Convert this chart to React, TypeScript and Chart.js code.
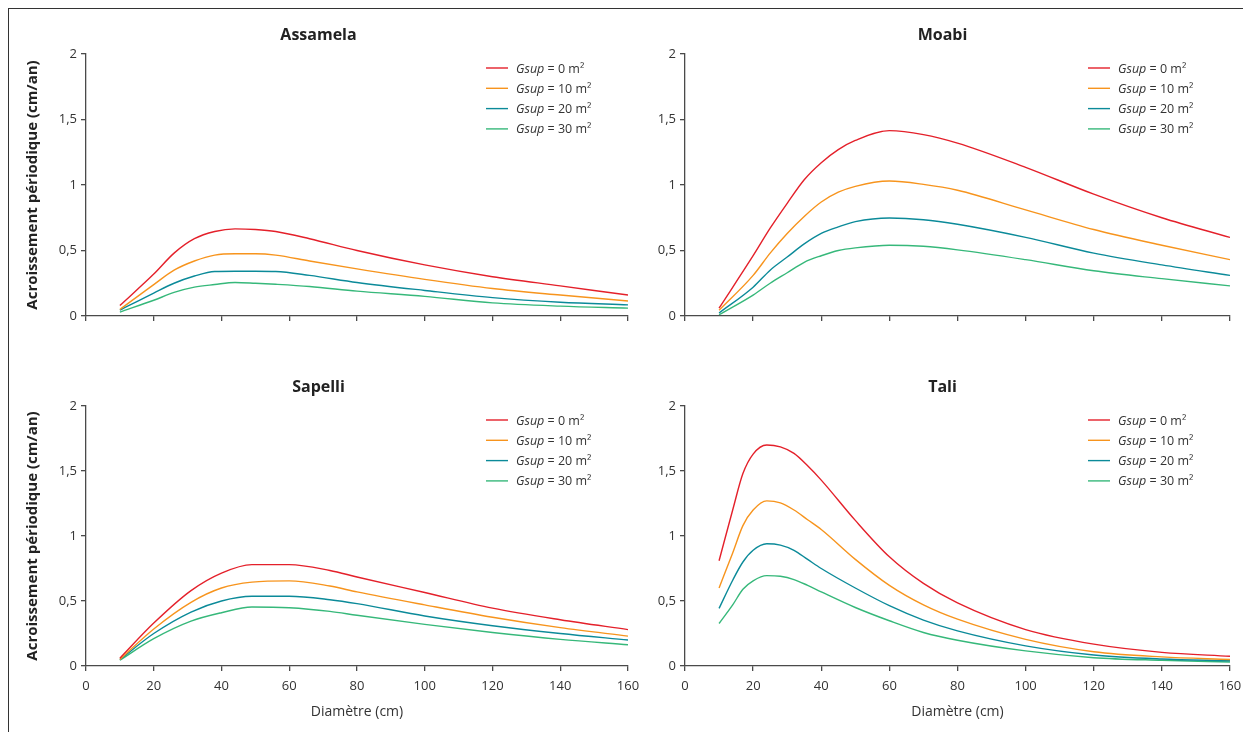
import React, { useEffect, useRef } from 'react';
import { Chart, registerables } from 'chart.js';
Chart.register(...registerables);

const FONT = '"Open Sans", Lato, sans-serif';
const TEXT = '#333333';
const AXIS = '#4a4a4a';

const GSUP_VALUES = ['0', '10', '20', '30'];
const COLORS = ['#e4202a', '#f7941d', '#0b8a99', '#36b87a'];
const Y_TICK_LABELS = ['0', '0,5', '1', '1,5', '2'];
const X_AXIS_TITLE = 'Diamètre (cm)';
const Y_AXIS_TITLE = 'Acroissement périodique (cm/an)';

// Assamela
const ASSAMELA_DIAM = [10, 20, 26, 32, 38, 44, 50, 56, 66, 80, 100, 120, 140, 160];
const ASSAMELA_G0 = [0.08, 0.32, 0.48, 0.59, 0.645, 0.665, 0.66, 0.645, 0.59, 0.5, 0.39, 0.3, 0.23, 0.16];
const ASSAMELA_G10 = [0.05, 0.24, 0.35, 0.42, 0.465, 0.475, 0.475, 0.465, 0.42, 0.36, 0.28, 0.21, 0.16, 0.115];
const ASSAMELA_G20 = [0.044, 0.175, 0.25, 0.305, 0.34, 0.342, 0.342, 0.34, 0.31, 0.256, 0.195, 0.14, 0.105, 0.085];
const ASSAMELA_G30 = [0.03, 0.12, 0.18, 0.22, 0.24, 0.256, 0.25, 0.242, 0.225, 0.19, 0.15, 0.1, 0.075, 0.06];

// Moabi
const MOABI_DIAM = [10, 20, 25, 30, 35, 40, 45, 50, 60, 70, 80, 100, 120, 140, 160];
const MOABI_G0 = [0.06, 0.46, 0.67, 0.86, 1.04, 1.17, 1.27, 1.34, 1.415, 1.385, 1.32, 1.135, 0.93, 0.75, 0.6];
const MOABI_G10 = [0.044, 0.31, 0.48, 0.63, 0.76, 0.87, 0.945, 0.99, 1.03, 1.005, 0.96, 0.81, 0.66, 0.54, 0.43];
const MOABI_G20 = [0.023, 0.22, 0.35, 0.45, 0.55, 0.63, 0.68, 0.72, 0.748, 0.735, 0.7, 0.6, 0.48, 0.39, 0.31];
const MOABI_G30 = [0.01, 0.16, 0.25, 0.33, 0.41, 0.46, 0.5, 0.52, 0.54, 0.532, 0.505, 0.43, 0.345, 0.285, 0.23];

// Sapelli
const SAPELLI_DIAM = [10, 20, 31, 40, 49, 60, 72, 80, 100, 120, 140, 160];
const SAPELLI_G0 = [0.06, 0.33, 0.58, 0.715, 0.78, 0.78, 0.735, 0.685, 0.565, 0.445, 0.356, 0.28];
const SAPELLI_G10 = [0.05, 0.285, 0.49, 0.6, 0.645, 0.655, 0.615, 0.57, 0.47, 0.375, 0.295, 0.23];
const SAPELLI_G20 = [0.049, 0.25, 0.415, 0.5, 0.536, 0.536, 0.51, 0.48, 0.385, 0.31, 0.25, 0.2];
const SAPELLI_G30 = [0.044, 0.21, 0.345, 0.41, 0.454, 0.448, 0.42, 0.39, 0.32, 0.258, 0.205, 0.164];

// Tali
const TALI_DIAM = [10, 14, 17, 20, 24, 28, 32, 36, 40, 50, 60, 70, 80, 100, 120, 140, 160];
const TALI_G0 = [0.81, 1.2, 1.48, 1.63, 1.7, 1.685, 1.635, 1.54, 1.43, 1.12, 0.84, 0.635, 0.485, 0.28, 0.168, 0.105, 0.075];
const TALI_G10 = [0.6, 0.87, 1.08, 1.2, 1.27, 1.255, 1.2, 1.125, 1.05, 0.82, 0.62, 0.47, 0.36, 0.205, 0.11, 0.07, 0.05];
const TALI_G20 = [0.443, 0.66, 0.8, 0.89, 0.94, 0.93, 0.89, 0.82, 0.75, 0.6, 0.464, 0.353, 0.27, 0.155, 0.085, 0.054, 0.04];
const TALI_G30 = [0.327, 0.47, 0.59, 0.655, 0.695, 0.69, 0.665, 0.62, 0.57, 0.45, 0.348, 0.258, 0.198, 0.116, 0.064, 0.044, 0.031];

type PanelProps = {
  title: string;
  diam: number[];
  series: number[][];
  left: number;
  top: number;
  width: number;
  height: number;
  yWidth: number;
  xHeight: number;
  rightPad: number;
  showYTitle: boolean;
  showXLabels: boolean;
};

const legendPlugin = {
  id: 'gsupLegend',
  afterDatasetsDraw(chart: any) {
    const { ctx, chartArea } = chart;
    ctx.save();
    const lineX0 = chartArea.right - 142;
    const lineX1 = chartArea.right - 120;
    const textX = chartArea.right - 112;
    GSUP_VALUES.forEach((g, i) => {
      const y = chartArea.top + 14 + i * 20.3;
      ctx.strokeStyle = COLORS[i];
      ctx.lineWidth = 1.4;
      ctx.beginPath();
      ctx.moveTo(lineX0, y);
      ctx.lineTo(lineX1, y);
      ctx.stroke();
      ctx.fillStyle = TEXT;
      ctx.textBaseline = 'middle';
      ctx.textAlign = 'left';
      ctx.font = `italic 12.5px ${FONT}`;
      ctx.fillText('Gsup', textX, y + 1);
      const w = ctx.measureText('Gsup').width;
      ctx.font = `12.5px ${FONT}`;
      ctx.fillText(` = ${g} m²`, textX + w, y + 1);
    });
    ctx.restore();
  },
};

function Panel(p: PanelProps) {
  const ref = useRef<HTMLCanvasElement | null>(null);
  useEffect(() => {
    if (!ref.current) return;
    const chart = new Chart(ref.current, {
      type: 'line',
      data: {
        datasets: p.series.map((vals, i) => ({
          label: `Gsup = ${GSUP_VALUES[i]} m²`,
          data: vals.map((v, j) => ({ x: p.diam[j], y: v })),
          borderColor: COLORS[i],
          backgroundColor: COLORS[i],
          borderWidth: 1.4,
          pointRadius: 0,
          cubicInterpolationMode: 'monotone' as const,
          fill: false,
        })),
      },
      options: {
        responsive: false,
        animation: false,
        devicePixelRatio: 1,
        layout: { padding: { left: 0, right: p.rightPad, top: 0, bottom: 0 } },
        plugins: {
          legend: { display: false },
          tooltip: { enabled: false },
          title: {
            display: true,
            text: p.title,
            color: '#222',
            font: { family: FONT, size: 16, weight: 'bold' },
            padding: { top: 16.4, bottom: 9.4 },
          },
        },
        scales: {
          x: {
            type: 'linear',
            min: 0,
            max: 160,
            ticks: {
              stepSize: 20,
              display: true,
              color: p.showXLabels ? TEXT : 'rgba(0,0,0,0)',
              font: { family: FONT, size: 13 },
              padding: 7,
              maxRotation: 0,
              autoSkip: false,
            },
            grid: { drawOnChartArea: false, drawTicks: true, tickLength: 5, color: AXIS, lineWidth: 1.3 },
            border: { display: true, color: AXIS, width: 1.3 },
            title: {
              display: p.showXLabels,
              text: X_AXIS_TITLE,
              color: TEXT,
              font: { family: FONT, size: 14 },
              padding: { top: 0, bottom: 12 },
            },
            afterFit: (s: any) => {
              s.height = p.xHeight;
            },
          },
          y: {
            type: 'linear',
            min: 0,
            max: 2,
            ticks: {
              stepSize: 0.5,
              color: TEXT,
              font: { family: FONT, size: 13 },
              padding: 4,
              callback: (v: any) => Y_TICK_LABELS[Math.round(Number(v) / 0.5)] ?? '',
            },
            grid: { drawOnChartArea: false, drawTicks: true, tickLength: 5, color: AXIS, lineWidth: 1.3 },
            border: { display: true, color: AXIS, width: 1.3 },
            title: {
              display: p.showYTitle,
              text: Y_AXIS_TITLE,
              color: '#222',
              font: { family: FONT, size: 15, weight: 'bold' },
              padding: { top: 14.5, bottom: 0 },
            },
            afterFit: (s: any) => {
              s.width = p.yWidth;
            },
          },
        },
      },
      plugins: [legendPlugin],
    } as any);
    return () => chart.destroy();
  }, []);
  return (
    <canvas
      ref={ref}
      width={p.width}
      height={p.height}
      style={{ position: 'absolute', left: p.left, top: p.top, width: p.width, height: p.height, display: 'block' }}
    />
  );
}

export default function App() {
  return (
    <div
      style={{
        position: 'relative',
        width: 1243,
        height: 724,
        boxSizing: 'border-box',
        borderTop: '1px solid #333',
        borderLeft: '1px solid #333',
        overflow: 'hidden',
        background: '#fff',
      }}
    >
      <Panel
        title="Assamela"
        diam={ASSAMELA_DIAM}
        series={[ASSAMELA_G0, ASSAMELA_G10, ASSAMELA_G20, ASSAMELA_G30]}
        left={0} top={0} width={646} height={340}
        yWidth={77} xHeight={33} rightPad={27}
        showYTitle={true} showXLabels={false}
      />
      <Panel
        title="Moabi"
        diam={MOABI_DIAM}
        series={[MOABI_G0, MOABI_G10, MOABI_G20, MOABI_G30]}
        left={646} top={0} width={596} height={340}
        yWidth={30} xHeight={33} rightPad={21}
        showYTitle={false} showXLabels={false}
      />
      <Panel
        title="Sapelli"
        diam={SAPELLI_DIAM}
        series={[SAPELLI_G0, SAPELLI_G10, SAPELLI_G20, SAPELLI_G30]}
        left={0} top={352} width={646} height={371}
        yWidth={77} xHeight={66} rightPad={27}
        showYTitle={true} showXLabels={true}
      />
      <Panel
        title="Tali"
        diam={TALI_DIAM}
        series={[TALI_G0, TALI_G10, TALI_G20, TALI_G30]}
        left={646} top={352} width={596} height={371}
        yWidth={30} xHeight={66} rightPad={21}
        showYTitle={false} showXLabels={true}
      />
    </div>
  );
}
